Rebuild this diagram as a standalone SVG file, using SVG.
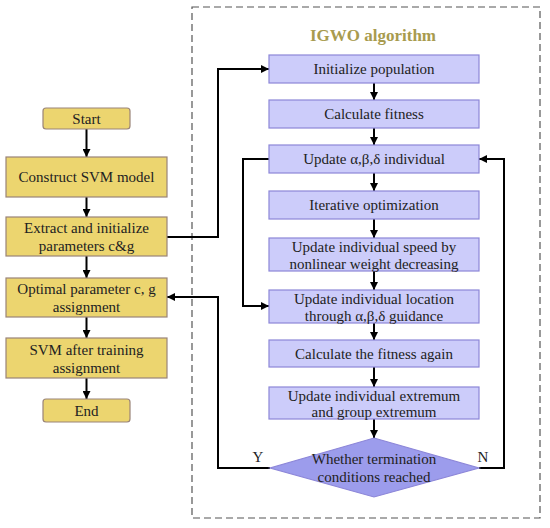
<svg xmlns="http://www.w3.org/2000/svg" width="550" height="528" viewBox="0 0 550 528">
<defs>
<marker id="ah" viewBox="0 0 10 10" refX="10" refY="5" markerWidth="8" markerHeight="8" markerUnits="userSpaceOnUse" orient="auto">
<path d="M0,0 L10,5 L0,10 z" fill="#000"/>
</marker>
<style>
.y{fill:#ECD56F;stroke:#9A8478;stroke-width:1.2}
.p{fill:#CCCCFA;stroke:#8C86D8;stroke-width:1.2}
.d{fill:#9C9CEC;stroke:#8C86D8;stroke-width:1.2}
text{font-family:"Liberation Serif","Times New Roman",serif;font-size:15px;fill:#222;text-anchor:middle}
.c{fill:none;stroke:#000;stroke-width:2}
.ca{fill:none;stroke:#000;stroke-width:2;marker-end:url(#ah)}
</style>
</defs>
<rect width="550" height="528" fill="#fff"/>
<rect x="192" y="7" width="348" height="511" fill="none" stroke="#555" stroke-width="1.2" stroke-dasharray="7,4"/>
<text x="373" y="41" style="font-weight:bold;font-size:17px;fill:#A89B4E">IGWO algorithm</text>

<g id="connectors">
<line class="ca" x1="86.5" y1="129" x2="86.5" y2="157"/>
<line class="ca" x1="86.5" y1="197" x2="86.5" y2="217"/>
<line class="ca" x1="86.5" y1="256" x2="86.5" y2="278"/>
<line class="ca" x1="86.5" y1="317" x2="86.5" y2="338"/>
<line class="ca" x1="86.5" y1="378" x2="86.5" y2="399"/>
<line class="ca" x1="374" y1="83" x2="374" y2="100"/>
<line class="ca" x1="374" y1="128" x2="374" y2="145"/>
<line class="ca" x1="374" y1="173" x2="374" y2="191"/>
<line class="ca" x1="374" y1="219" x2="374" y2="238"/>
<line class="ca" x1="374" y1="271" x2="374" y2="290"/>
<line class="ca" x1="374" y1="323" x2="374" y2="340"/>
<line class="ca" x1="374" y1="367" x2="374" y2="387"/>
<line class="ca" x1="374" y1="419" x2="374" y2="438"/>
<polyline class="ca" points="167,237 218,237 218,69 269,69"/>
<polyline class="ca" points="269,159 243,159 243,306 269,306"/>
<polyline class="ca" points="479,468 504,468 504,159 479,159"/>
<polyline class="ca" points="270,468 218,468 218,297 167,297"/>
</g>

<g id="start"><rect class="y" x="43" y="108" width="87" height="21" rx="3"/><text x="86.5" y="124">Start</text></g>
<g id="construct"><rect class="y" x="6" y="157" width="161" height="40"/><text x="86.5" y="182">Construct SVM model</text></g>
<g id="extract"><rect class="y" x="6" y="217" width="161" height="39"/><text x="86.5" y="233">Extract and initialize</text><text x="86.5" y="251">parameters c&amp;g</text></g>
<g id="optimal"><rect class="y" x="6" y="278" width="161" height="39"/><text x="86.5" y="294">Optimal parameter c, g</text><text x="86.5" y="312">assignment</text></g>
<g id="svm"><rect class="y" x="6" y="338" width="161" height="40"/><text x="86.5" y="355">SVM after training</text><text x="86.5" y="373">assignment</text></g>
<g id="end"><rect class="y" x="43" y="399" width="87" height="23" rx="3"/><text x="86.5" y="416">End</text></g>

<g id="init"><rect class="p" x="269" y="55" width="210" height="28"/><text x="374" y="74">Initialize population</text></g>
<g id="calc"><rect class="p" x="269" y="100" width="210" height="28"/><text x="374" y="119">Calculate fitness</text></g>
<g id="update_abd"><rect class="p" x="269" y="145" width="210" height="28"/><text x="374" y="164">Update α,β,δ individual</text></g>
<g id="iter"><rect class="p" x="269" y="191" width="210" height="28"/><text x="374" y="210">Iterative optimization</text></g>
<g id="speed"><rect class="p" x="269" y="238" width="210" height="33"/><text x="374" y="252">Update individual speed by</text><text x="374" y="269">nonlinear weight decreasing</text></g>
<g id="location"><rect class="p" x="269" y="290" width="210" height="33"/><text x="374" y="304">Update individual location</text><text x="374" y="321">through α,β,δ guidance</text></g>
<g id="calc2"><rect class="p" x="269" y="340" width="210" height="27"/><text x="374" y="359">Calculate the fitness again</text></g>
<g id="extremum"><rect class="p" x="269" y="387" width="210" height="32"/><text x="374" y="401">Update individual extremum</text><text x="374" y="417">and group extremum</text></g>
<g id="decision"><polygon class="d" points="374,438 479,468 374,497 270,468"/><text x="374" y="464">Whether termination</text><text x="374" y="482">conditions reached</text></g>
<text x="258" y="462">Y</text>
<text x="483" y="462">N</text>
</svg>
